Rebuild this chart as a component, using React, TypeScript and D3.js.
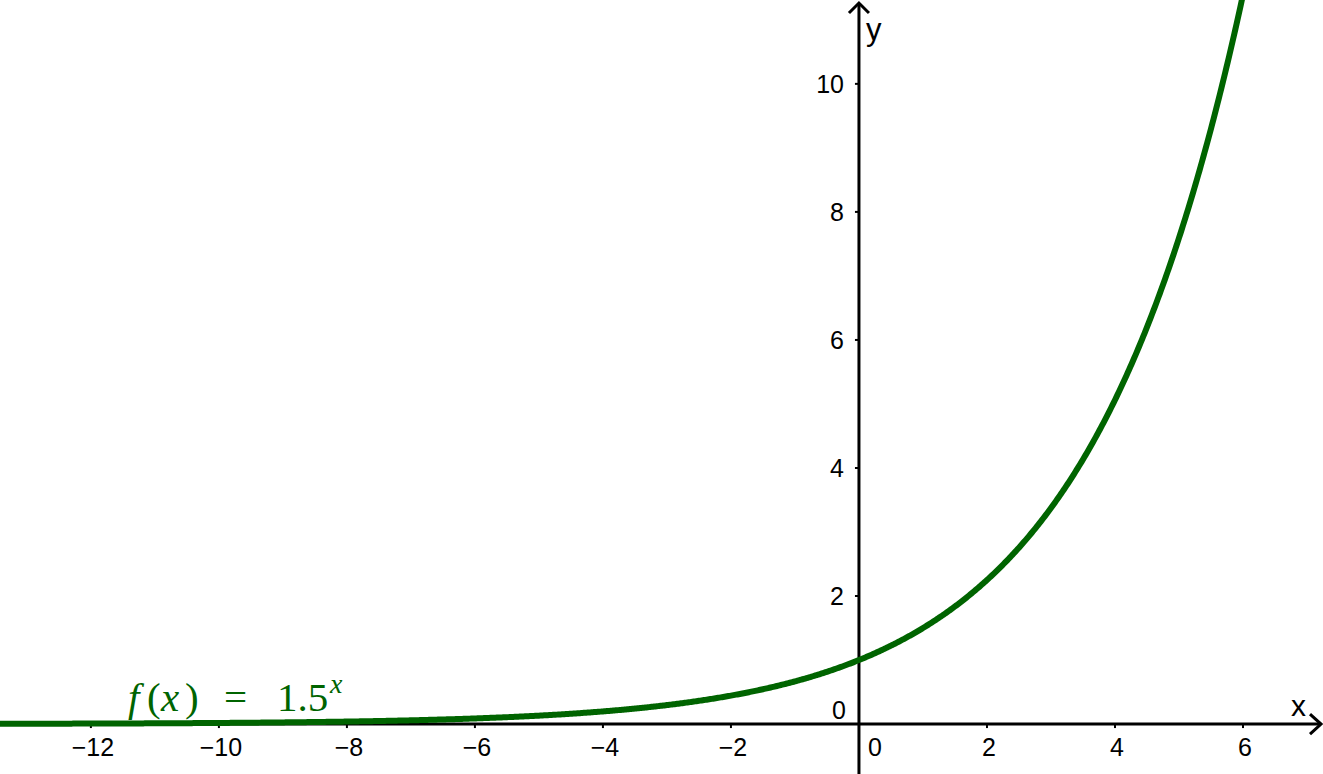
import React from "react";
import * as d3 from "d3";

const W = 1323;
const H = 774;

// Function f(x) = base^x
const base = 1.5;
const xTicks = [-12, -10, -8, -6, -4, -2, 0, 2, 4, 6];
const yTicks = [0, 2, 4, 6, 8, 10];
const xDomain = [-13.42, 7.25];
const yDomain = [-0.78, 11.31];

const curveColor = "#006400";
const sansFont = "'Liberation Sans', Arial, sans-serif";
const serifFont = "'Liberation Serif', 'DejaVu Serif', serif";

export default function App() {
  const x = d3.scaleLinear().domain(xDomain).range([0, W]);
  const y = d3.scaleLinear().domain(yDomain).range([H, 0]);

  const samples = d3.range(xDomain[0], 6.05, 0.02);
  const line = d3
    .line<number>()
    .x((d) => x(d))
    .y((d) => y(Math.pow(base, d)))
    .curve(d3.curveLinear);

  const x0 = x(0);
  const y0 = y(0);

  return (
    <svg
      width={W}
      height={H}
      style={{ position: "absolute", left: 0, top: 0, background: "#fff" }}
    >
      <rect x={0} y={0} width={W} height={H} fill="#fff" />
      {/* axes */}
      <line x1={0} x2={W - 2} y1={y0} y2={y0} stroke="#000" strokeWidth={3} />
      <line x1={x0} x2={x0} y1={H} y2={3} stroke="#000" strokeWidth={3} />
      {/* arrows */}
      <path
        d={`M${W - 13},${y0 - 10} L${W - 2},${y0} L${W - 13},${y0 + 10}`}
        fill="none"
        stroke="#000"
        strokeWidth={3}
      />
      <path
        d={`M${x0 - 10},${13} L${x0},${3} L${x0 + 10},${13}`}
        fill="none"
        stroke="#000"
        strokeWidth={3}
      />
      {/* x ticks */}
      {xTicks.map((t) =>
        t === 0 ? (
          <text
            key={t}
            x={x0 + 9}
            y={y0 + 32}
            fontFamily={sansFont}
            fontSize={25}
            fill="#000"
          >
            0
          </text>
        ) : (
          <g key={t}>
            <line x1={x(t)} x2={x(t)} y1={y0} y2={y0 + 4} stroke="#000" strokeWidth={2} />
            <text
              x={x(t) + 2}
              y={y0 + 32}
              textAnchor="middle"
              fontFamily={sansFont}
              fontSize={25}
              fill="#000"
            >
              {t < 0 ? "\u2212" + Math.abs(t) : String(t)}
            </text>
          </g>
        )
      )}
      {/* y ticks */}
      {yTicks.map((t) =>
        t === 0 ? (
          <text
            key={t}
            x={x0 - 13}
            y={y0 - 5}
            textAnchor="end"
            fontFamily={sansFont}
            fontSize={25}
            fill="#000"
          >
            0
          </text>
        ) : (
          <g key={t}>
            <line x1={x0 - 4} x2={x0} y1={y(t)} y2={y(t)} stroke="#000" strokeWidth={2} />
            <text
              x={x0 - 15}
              y={y(t)}
              dy="0.36em"
              textAnchor="end"
              fontFamily={sansFont}
              fontSize={25}
              fill="#000"
            >
              {String(t)}
            </text>
          </g>
        )
      )}
      {/* axis labels */}
      <text x={x0 + 7} y={40} fontFamily={sansFont} fontSize={31} fill="#000">
        y
      </text>
      <text x={W - 32} y={y0 - 8} fontFamily={sansFont} fontSize={30} fill="#000">
        x
      </text>
      {/* curve */}
      <path
        d={line(samples) || ""}
        fill="none"
        stroke={curveColor}
        strokeWidth={6}
        strokeLinejoin="round"
      />
      {/* function label */}
      <g fontFamily={serifFont} fill={curveColor}>
        <text x={128} y={711} fontSize={41} fontStyle="italic">f</text>
        <text x={147} y={711} fontSize={41}>(</text>
        <text x={161} y={711} fontSize={41} fontStyle="italic">x</text>
        <text x={185} y={711} fontSize={41}>)</text>
        <text x={224} y={711} fontSize={41}>=</text>
        <text x={277} y={711} fontSize={41}>1.5</text>
        <text x={330} y={693} fontSize={28} fontStyle="italic">x</text>
      </g>
    </svg>
  );
}
